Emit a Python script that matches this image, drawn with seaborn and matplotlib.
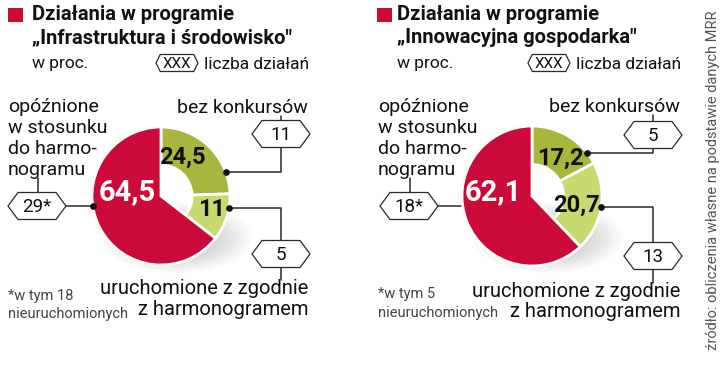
import numpy as np
import pandas as pd
import matplotlib
matplotlib.use("Agg")
import matplotlib.pyplot as plt
import seaborn as sns
from matplotlib.patches import Polygon, Ellipse, Rectangle

programs = ["\u201eInfrastruktura i \u015brodowisko\"", "\u201eInnowacyjna gospodarka\""]
segments = ["bez konkurs\u00f3w", "uruchomione z zgodnie\nz harmonogramem", "op\u00f3\u017anione\nw stosunku\ndo harmo-\nnogramu"]
share_infra = [24.5, 11.0, 64.5]
share_innov = [17.2, 20.7, 62.1]
count_infra = ["11", "5", "29*"]
count_innov = ["5", "13", "18*"]
footnotes = ["*w tym 18\nnieuruchomionych", "*w tym 5\nnieuruchomionych"]

df = pd.DataFrame({"segment": segments, "infra": share_infra, "innov": share_innov})

sns.set_theme(style="white")
plt.rcParams['font.family'] = ['Roboto', 'DejaVu Sans']

RED = "#CC0A3A"
DGREEN = "#A7B63C"
LGREEN = "#C8D96F"
LINE = "#2a2a2a"
colors = [DGREEN, LGREEN, RED]

fig = plt.figure(figsize=(7.2, 3.71), dpi=100)
ax = fig.add_axes([0, 0, 1, 1])

# layout of the two panels (pixel coordinates, y downward)
panels = [
    dict(col="infra", counts=count_infra, title=programs[0], note=footnotes[0],
         sq=8, tx=32, lx=8, cx=161, cy=196, R=69, rx=308,
         hex_l=(37, 206), hex_t=(281, 134), hex_b=(281, 254),
         top_y=172, bot_y=208, left_dot=True,
         pct_pos=[(182, 157), (212, 210), (127, 192)],
         bez_y=113, uru_y=(294, 315), note_y=(300, 318), legx=177),
    dict(col="innov", counts=count_innov, title=programs[1], note=footnotes[1],
         sq=377, tx=397, lx=378, cx=532, cy=196, R=70, rx=680,
         hex_l=(409, 206), hex_t=(653, 135), hex_b=(653, 256),
         top_y=153, bot_y=207, left_dot=False,
         pct_pos=[(560, 158), (577, 205), (493, 192)],
         bez_y=112, uru_y=(297, 317), note_y=(298, 317), legx=549),
]


def hexagon(cx, cy, text, w=58, h=27, fs=13.5, inset=0.37):
    p = h * inset
    pts = [(cx - w / 2, cy), (cx - w / 2 + p, cy - h / 2), (cx + w / 2 - p, cy - h / 2),
           (cx + w / 2, cy), (cx + w / 2 - p, cy + h / 2), (cx - w / 2 + p, cy + h / 2)]
    ax.add_patch(Polygon(pts, closed=True, fc="white", ec=LINE, lw=0.9, zorder=4))
    ax.text(cx, cy + 1, text, ha="center", va="center", fontsize=fs, color="#111", zorder=5)


def fmt(v):
    return ("%g" % v).replace(".", ",")


for p in panels:
    vals = df[p["col"]].tolist()
    cx, cy, R = p["cx"], p["cy"], p["R"]

    # soft shadow to the lower right of the pie
    for i in range(12):
        ax.add_patch(Ellipse((cx + 16, cy + 42), 150 - i * 9, 70 - i * 4,
                             color="#666", alpha=0.03, lw=0, zorder=1))

    wedges, _ = ax.pie(vals, colors=colors, startangle=-90, counterclock=True,
                       center=(cx, cy), radius=R,
                       wedgeprops=dict(edgecolor="white", linewidth=2))
    for w in wedges[:2]:
        w.set_width(R * 0.55)
    for w in wedges:
        w.set_zorder(2)

    # percentages
    for i, (x, y) in enumerate(p["pct_pos"]):
        big = i == 2
        ax.text(x, y, fmt(vals[i]), ha="center", va="center", fontweight="bold",
                fontsize=21 if big else 17, color="white" if big else "#111", zorder=3)

    # title block
    ax.add_patch(Rectangle((p["sq"], 8), 15, 14, color=RED, lw=0))
    ax.text(p["tx"], 20, "Dzia\u0142ania w programie", fontsize=14.5, fontweight="bold",
            color="#111", va="baseline")
    ax.text(p["tx"], 43, p["title"], fontsize=14.5, fontweight="bold", color="#111", va="baseline")
    ax.text(p["tx"], 68, "w proc.", fontsize=12.5, color="#111", va="baseline")
    hexagon(p["legx"], 63, "XXX", w=42, h=17, fs=11, inset=0.25)
    ax.text(p["legx"] + 27, 69, "liczba dzia\u0142a\u0144", fontsize=12.5, color="#111", va="baseline")

    # left label: delayed
    for k, line in enumerate(segments[2].split("\n")):
        ax.text(p["lx"], 112 + 21 * k, line, fontsize=14, color="#111", va="baseline")
    hx, hy = p["hex_l"]
    ax.plot([hx + 1, hx + 1], [178, hy - 13], color=LINE, lw=1.1)
    ex = cx - np.sqrt(R ** 2 - (hy - cy) ** 2)
    ax.plot([hx + 29, ex], [hy, hy], color=LINE, lw=1.1, zorder=1.5)
    if p["left_dot"]:
        ax.plot(ex, hy, "o", color="#111", ms=3.8, zorder=5)
    hexagon(hx, hy, p["counts"][2])

    # right top: no competition
    ax.text(p["rx"], p["bez_y"], segments[0], fontsize=14, color="#111", ha="right", va="baseline")
    tx_, ty_ = p["hex_t"]
    dx = cx + np.sqrt(R ** 2 - (p["top_y"] - cy) ** 2)
    ax.plot([tx_, tx_], [p["bez_y"] + 3, ty_], color=LINE, lw=1.1, zorder=1)
    ax.plot([tx_, tx_, dx], [ty_, p["top_y"], p["top_y"]], color=LINE, lw=1.1, zorder=1)
    ax.plot(dx, p["top_y"], "o", color="#111", ms=3.8, zorder=5)
    hexagon(tx_, ty_, p["counts"][0])

    # right bottom: launched on schedule
    bx, by = p["hex_b"]
    dx2 = cx + np.sqrt(R ** 2 - (p["bot_y"] - cy) ** 2)
    ax.plot([dx2, bx, bx], [p["bot_y"], p["bot_y"], p["uru_y"][0] - 14], color=LINE, lw=1.1, zorder=1)
    ax.plot(dx2, p["bot_y"], "o", color="#111", ms=3.8, zorder=5)
    hexagon(bx, by, p["counts"][1])
    for k, line in enumerate(segments[1].split("\n")):
        ax.text(p["rx"], p["uru_y"][k], line, fontsize=14.5, color="#111", ha="right", va="baseline")

    # footnote
    for k, line in enumerate(p["note"].split("\n")):
        ax.text(p["lx"], p["note_y"][k], line, fontsize=10.5, color="#444", va="baseline")

ax.text(713, 10, "\u017ar\u00f3d\u0142o: obliczenia w\u0142asne na podstawie danych MRR", rotation=90,
        fontsize=10.5, color="#555", ha="center", va="top")

ax.set_xlim(0, 720)
ax.set_ylim(371, 0)
ax.set_aspect("auto")
ax.axis("off")
fig.savefig("out.png", dpi=100, facecolor="white")
